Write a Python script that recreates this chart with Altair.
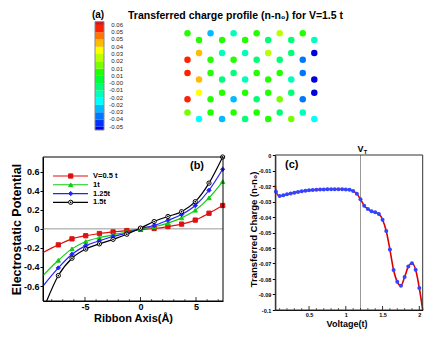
import altair as alt
import pandas as pd

FONT = "Liberation Sans"

# ---------------- (a) charge map ----------------
title_a = "Transferred charge profile (n-n\u2080) for V=1.5 t"
row_y = [0.0, 0.5, 1.5, 2.0, 3.0, 3.5, 4.5, 5.0, 6.0, 6.5]
row_x0 = [0, 1, 1, 0, 0, 1, 1, 0, 0, 1]
charge_rows = [
    [0.011, -0.028, -0.013, 0.011, 0.027, 0.011],
    [0.011, 0.011, 0.011, -0.005, -0.005, -0.013],
    [0.042, -0.013, -0.013, 0.027, -0.005, -0.050],
    [0.058, 0.011, 0.011, -0.005, -0.005, -0.036],
    [0.058, 0.011, -0.005, 0.011, 0.011, -0.036],
    [0.042, -0.005, -0.013, 0.011, -0.013, -0.050],
    [0.035, 0.011, 0.011, 0.011, -0.005, -0.050],
    [0.058, 0.011, -0.028, -0.005, 0.019, -0.036],
    [0.019, 0.011, 0.011, 0.011, -0.005, -0.013],
    [-0.020, -0.028, -0.005, 0.011, 0.019, -0.020],
]
cb_levels = [-0.048, -0.0401, -0.0323, -0.0244, -0.0166, -0.0087, -0.0009,
             0.0070, 0.0149, 0.0227, 0.0306, 0.0384, 0.0463, 0.0541, 0.0620]
cb_labels = ["-0.05", "-0.04", "-0.03", "-0.02", "-0.02", "-0.01", "-0.00",
             "0.01", "0.01", "0.02", "0.03", "0.04", "0.05", "0.05", "0.06"]
cb_ends = [-0.0515, 0.0655]
cb_colors = ["#0000dd", "#0033ff", "#0077ff", "#00bbff", "#00ffff", "#00ffbb",
             "#00ff77", "#00ff33", "#22ff00", "#77ff00", "#bbff00", "#ffff00",
             "#ffbb00", "#ff7700", "#ff2200", "#dd1111"]

# ---------------- (b) potential ----------------
series = ["V=0.5 t", "1t", "1.25t", "1.5t"]
b_x = [-7.4, -6.17, -4.93, -3.7, -2.47, -1.23, 0.0, 1.23, 2.47, 3.7, 4.93, 6.17, 7.4]
b_red = [-0.168, -0.105, -0.072, -0.049, -0.032, -0.018, -0.006, 0.004, 0.024, 0.050, 0.092, 0.164, 0.245]
b_green = [-0.330, -0.210, -0.133, -0.092, -0.062, -0.035, 0.000, 0.022, 0.060, 0.115, 0.195, 0.325, 0.496]
b_blue = [-0.410, -0.267, -0.176, -0.125, -0.080, -0.045, 0.003, 0.035, 0.090, 0.150, 0.245, 0.405, 0.625]
b_black = [-0.490, -0.308, -0.212, -0.158, -0.110, -0.056, 0.008, 0.077, 0.130, 0.180, 0.285, 0.480, 0.754]
b_edge_x = [-8.78, -8.78, -8.78, -8.45]
b_edge_y = [-0.248, -0.490, -0.600, -0.757]
b_xticks = [-5, 0, 5]
b_xminor = [-8, -7, -6, -4, -3, -2, -1, 1, 2, 3, 4, 6, 7]
b_yticks = [-0.6, -0.4, -0.2, 0, 0.2, 0.4, 0.6]
series_colors = ["#dd1111", "#11cc11", "#2222ff", "#000000"]
series_fills = ["#dd1111", "#11cc11", "#2222ff", "#ffffff"]
series_shapes = ["square", "triangle-up", "diamond", "circle"]

# ---------------- (c) transferred charge ----------------
c_x = [0.05, 0.10, 0.15, 0.20, 0.25, 0.30, 0.35, 0.40, 0.45, 0.50,
       0.55, 0.60, 0.65, 0.70, 0.75, 0.80, 0.85, 0.90, 0.95, 1.00,
       1.05, 1.10, 1.15, 1.20, 1.25, 1.30, 1.35, 1.40, 1.45, 1.50,
       1.55, 1.60, 1.65, 1.70, 1.75, 1.80, 1.85, 1.90, 1.95, 2.00]
c_y = [-0.0237, -0.0265, -0.0260, -0.0254, -0.0248, -0.0243, -0.0238, -0.0234, -0.0231, -0.0228,
       -0.0226, -0.0224, -0.0223, -0.0222, -0.0221, -0.0221, -0.0221, -0.0221, -0.0221, -0.0222,
       -0.0224, -0.0232, -0.0250, -0.0286, -0.0327, -0.0348, -0.0363, -0.0370, -0.0380, -0.0418,
       -0.0490, -0.0610, -0.0742, -0.0818, -0.0843, -0.0787, -0.0720, -0.0698, -0.0740, -0.0858]
c_edge_x = [0.041, 2.046]
c_edge_y = [-0.0195, -0.100]
c_vt = [1.2]
c_xticks = [0.5, 1, 1.5, 2]
c_minor = [0.1, 0.2, 0.3, 0.4, 0.6, 0.7, 0.8, 0.9, 1.1, 1.2, 1.3, 1.4, 1.6, 1.7, 1.8, 1.9]
c_yticks = [0, -0.01, -0.02, -0.03, -0.04, -0.05, -0.06, -0.07, -0.08, -0.09, -0.1]

# ================= build tables =================
dots = []
for i, row in enumerate(charge_rows):
    for j, q in enumerate(row):
        dots.append({"x": row_x0[i] + 2 * j, "y": row_y[i], "q": q})
dots_df = pd.DataFrame(dots)

bounds = [cb_ends[0]] + cb_levels + [cb_ends[1]]
cb_df = pd.DataFrame({"lo": bounds[:-1], "hi": bounds[1:], "c": cb_colors})
cb_lab_df = pd.DataFrame({"v": cb_levels, "t": cb_labels})
cb_frame_df = pd.DataFrame({"lo": [cb_ends[0]], "hi": [cb_ends[1]]})

b_vals = [b_red, b_green, b_blue, b_black]
b_line_rows, b_pt_rows = [], []
for k, s in enumerate(series):
    b_line_rows.append({"s": s, "x": b_edge_x[k], "y": b_edge_y[k]})
    for xv, yv in zip(b_x, b_vals[k]):
        b_line_rows.append({"s": s, "x": xv, "y": yv})
        b_pt_rows.append({"s": s, "x": xv, "y": yv})
b_line_df = pd.DataFrame(b_line_rows)
b_pt_df = pd.DataFrame(b_pt_rows)
b_dot_df = b_pt_df[b_pt_df["s"] == series[3]]
leg_df = pd.DataFrame({"s": series, "r": list(range(len(series)))})

c_pt_df = pd.DataFrame({"x": c_x, "y": c_y})
c_line_df = pd.DataFrame({"x": [c_edge_x[0]] + c_x + [c_edge_x[1]],
                          "y": [c_edge_y[0]] + c_y + [c_edge_y[1]]})

# ================= scales =================
def lin(domain, rng):
    return alt.Scale(domain=domain, range=rng, zero=False, nice=False)

sx_a = lin([0, 11], [179.5, 306.3])
sy_a = lin([0, 6.5], [25.3, 111.1])
sy_cb = lin(cb_ends, [122, 13.7])
b_xd, b_yd = [-8.78, 7.43], [-0.757, 0.754]
sx_b = lin(b_xd, [35, 215])
sy_b = lin(b_yd, [293, 149])
c_xd, c_yd = [0.041, 2.046], [-0.1, 0]
sx_c = lin(c_xd, [267.3, 414.7])
sy_c = lin(c_yd, [302, 147])
sy_leg = lin([0, 3], [168, 194.3])

def txt(t, x, y, size, weight="bold", align="center", angle=0, color="black"):
    return alt.Chart(pd.DataFrame({"t": [t]})).mark_text(
        fontSize=size, fontWeight=weight, align=align, baseline="middle",
        angle=angle, color=color
    ).encode(x=alt.value(x), y=alt.value(y), text="t:N")

layers = []

# ================= panel (a) =================
layers.append(alt.Chart(dots_df).mark_circle(size=42, opacity=1).encode(
    x=alt.X("x:Q", scale=sx_a, axis=None),
    y=alt.Y("y:Q", scale=sy_a, axis=None),
    color=alt.Color("q:Q", scale=alt.Scale(type="threshold", domain=cb_levels, range=cb_colors), legend=None),
))
layers.append(alt.Chart(cb_df).mark_rect().encode(
    x=alt.value(87), x2=alt.value(96),
    y=alt.Y("lo:Q", scale=sy_cb, axis=None), y2="hi:Q",
    color=alt.Color("c:N", scale=None, legend=None),
))
layers.append(alt.Chart(cb_frame_df).mark_rect(fillOpacity=0, stroke="#888888", strokeWidth=1).encode(
    x=alt.value(87), x2=alt.value(96),
    y=alt.Y("lo:Q", scale=sy_cb, axis=None), y2="hi:Q",
))
layers.append(alt.Chart(cb_lab_df).mark_text(align="right", baseline="middle", fontSize=6, color="#222").encode(
    x=alt.value(115), y=alt.Y("v:Q", scale=sy_cb, axis=None), text="t:N",
))
layers.append(txt(title_a, 227.5, 8, 10.5))
layers.append(txt("(a)", 90, 6.5, 10))

# ================= panel (b) =================
b_box = pd.DataFrame({"x0": [b_xd[0]], "x1": [b_xd[1]], "y0": [b_yd[0]], "y1": [b_yd[1]], "z": [0]})
layers.append(alt.Chart(b_box).mark_rule(color="#999999", strokeWidth=1).encode(
    x=alt.X("x0:Q", scale=sx_b, axis=None), x2="x1:Q",
    y=alt.Y("z:Q", scale=sy_b, axis=None),
))
layers.append(alt.Chart(pd.DataFrame({"x": b_xticks})).mark_rule(color="black", strokeWidth=0.8).encode(
    x=alt.X("x:Q", scale=sx_b, axis=None), y=alt.value(293), y2=alt.value(289)))
layers.append(alt.Chart(pd.DataFrame({"x": b_xminor})).mark_rule(color="black", strokeWidth=0.6).encode(
    x=alt.X("x:Q", scale=sx_b, axis=None), y=alt.value(293), y2=alt.value(291)))
layers.append(alt.Chart(b_line_df).mark_line(interpolate="monotone", strokeWidth=1.2).encode(
    x=alt.X("x:Q", scale=sx_b, axis=alt.Axis(
        orient="bottom", offset=-28, values=b_xticks, labelExpr="'' + datum.value",
        grid=False, ticks=False, labelPadding=1.5, labelFontSize=9, labelFontWeight="bold",
        labelColor="black", domainColor="black",
        title="Ribbon Axis(\u00c5)", titleFontSize=11, titleFontWeight="bold", titleColor="black",
        titleX=125, titleY=17.5, titleAlign="center", titleBaseline="middle")),
    y=alt.Y("y:Q", scale=sy_b, axis=alt.Axis(
        orient="left", offset=-35, values=b_yticks,
        labelExpr="'' + datum.value", grid=False, tickSize=3, tickColor="black",
        labelPadding=1, labelFontSize=9, labelFontWeight="bold", labelColor="black",
        domainColor="black",
        title="Electrostatic Potential", titleFontSize=12.5, titleFontWeight="bold",
        titleColor="black", titleAngle=270, titleX=-27, titleY=221,
        titleAlign="center", titleBaseline="middle")),
    color=alt.Color("s:N", scale=alt.Scale(domain=series, range=series_colors), legend=None),
))
layers.append(alt.Chart(b_pt_df).mark_point(filled=True, size=18, strokeWidth=1, opacity=1).encode(
    x=alt.X("x:Q", scale=sx_b, axis=None),
    y=alt.Y("y:Q", scale=sy_b, axis=None),
    shape=alt.Shape("s:N", scale=alt.Scale(domain=series, range=series_shapes), legend=None),
    fill=alt.Fill("s:N", scale=alt.Scale(domain=series, range=series_fills), legend=None),
    stroke=alt.Stroke("s:N", scale=alt.Scale(domain=series, range=series_colors), legend=None),
))
layers.append(alt.Chart(b_dot_df).mark_circle(size=3, color="black", opacity=1).encode(
    x=alt.X("x:Q", scale=sx_b, axis=None),
    y=alt.Y("y:Q", scale=sy_b, axis=None),
))
layers.append(alt.Chart(b_box).mark_rect(fillOpacity=0, stroke="black", strokeWidth=1).encode(
    x=alt.X("x0:Q", scale=sx_b, axis=None), x2="x1:Q",
    y=alt.Y("y0:Q", scale=sy_b, axis=None), y2="y1:Q",
))
# legend of (b)
layers.append(alt.Chart(leg_df).mark_rule(strokeWidth=1.2).encode(
    x=alt.value(45), x2=alt.value(80),
    y=alt.Y("r:Q", scale=sy_leg, axis=None),
    color=alt.Color("s:N", scale=alt.Scale(domain=series, range=series_colors), legend=None),
))
layers.append(alt.Chart(leg_df).mark_point(filled=True, size=18, strokeWidth=1, opacity=1).encode(
    x=alt.value(62.7),
    y=alt.Y("r:Q", scale=sy_leg, axis=None),
    shape=alt.Shape("s:N", scale=alt.Scale(domain=series, range=series_shapes), legend=None),
    fill=alt.Fill("s:N", scale=alt.Scale(domain=series, range=series_fills), legend=None),
    stroke=alt.Stroke("s:N", scale=alt.Scale(domain=series, range=series_colors), legend=None),
))
layers.append(alt.Chart(leg_df[leg_df["s"] == series[3]]).mark_circle(size=3, color="black", opacity=1).encode(
    x=alt.value(62.7),
    y=alt.Y("r:Q", scale=sy_leg, axis=None),
))
layers.append(alt.Chart(leg_df).mark_text(align="left", baseline="middle", fontSize=7.5,
                                          fontWeight="bold", color="black").encode(
    x=alt.value(85), y=alt.Y("r:Q", scale=sy_leg, axis=None), text="s:N",
))
layers.append(txt("(b)", 189, 157.7, 11))

# ================= panel (c) =================
c_box = pd.DataFrame({"x0": [c_xd[0]], "x1": [c_xd[1]], "y0": [c_yd[0]], "y1": [c_yd[1]]})
vt_df = pd.DataFrame({"x": c_vt, "y0": [c_yd[0]], "y1": [c_yd[1]]})
layers.append(alt.Chart(vt_df).mark_rule(color="#999999", strokeWidth=1).encode(
    x=alt.X("x:Q", scale=sx_c, axis=None),
    y=alt.Y("y0:Q", scale=sy_c, axis=None), y2="y1:Q",
))
layers.append(alt.Chart(pd.DataFrame({"x": c_xticks})).mark_rule(color="black", strokeWidth=0.8).encode(
    x=alt.X("x:Q", scale=sx_c, axis=None), y=alt.value(302), y2=alt.value(298)))
layers.append(alt.Chart(pd.DataFrame({"x": c_minor})).mark_rule(color="black", strokeWidth=0.6).encode(
    x=alt.X("x:Q", scale=sx_c, axis=None), y=alt.value(302), y2=alt.value(300)))
layers.append(alt.Chart(c_line_df).mark_line(interpolate="monotone", color="#dd0000", strokeWidth=1.6).encode(
    x=alt.X("x:Q", scale=sx_c, axis=alt.Axis(
        orient="bottom", offset=-19, values=c_xticks, labelExpr="'' + datum.value",
        grid=False, ticks=False, labelPadding=2, labelFontSize=5.5, labelFontWeight="bold",
        labelColor="black", domainColor="black",
        title="Voltage(t)", titleFontSize=9, titleFontWeight="bold", titleColor="black",
        titleX=338.5, titleY=13.3, titleAlign="center", titleBaseline="middle")),
    y=alt.Y("y:Q", scale=sy_c, axis=alt.Axis(
        orient="left", offset=-267.3, values=c_yticks, labelExpr="'' + datum.value",
        grid=False, tickSize=3, tickColor="black", labelPadding=1.5, labelFontSize=5.5,
        labelFontWeight="bold", labelColor="black", domainColor="black",
        title="Transferred Charge (n-n\u2080)", titleFontSize=9.5, titleFontWeight="bold",
        titleColor="black", titleAngle=270, titleX=-22, titleY=221,
        titleAlign="center", titleBaseline="middle")),
))
layers.append(alt.Chart(c_pt_df).mark_circle(size=16, color="#3344ff", opacity=1).encode(
    x=alt.X("x:Q", scale=sx_c, axis=None),
    y=alt.Y("y:Q", scale=sy_c, axis=None),
))
layers.append(alt.Chart(c_box).mark_rect(fillOpacity=0, stroke="#333333", strokeWidth=1).encode(
    x=alt.X("x0:Q", scale=sx_c, axis=None), x2="x1:Q",
    y=alt.Y("y0:Q", scale=sy_c, axis=None), y2="y1:Q",
))
layers.append(alt.Chart(vt_df).mark_text(text="V", fontSize=9, fontWeight="bold",
                                         align="center", baseline="middle", color="black").encode(
    x=alt.X("x:Q", scale=sx_c, axis=None), y=alt.value(140.5)))
layers.append(alt.Chart(vt_df).mark_text(text="T", fontSize=5.5, fontWeight="bold", dx=5,
                                         align="center", baseline="middle", color="black").encode(
    x=alt.X("x:Q", scale=sx_c, axis=None), y=alt.value(143.5)))
layers.append(txt("(c)", 283.7, 157, 11))

chart = alt.layer(*layers).resolve_scale(
    x="independent", y="independent", color="independent",
    shape="independent", fill="independent", stroke="independent",
).properties(
    width=420, height=321, padding=0,
    autosize=alt.AutoSizeParams(type="none"),
).configure(font=FONT).configure_view(stroke=None)

chart.save("out.html", embed_options={"renderer": "svg", "actions": False})
